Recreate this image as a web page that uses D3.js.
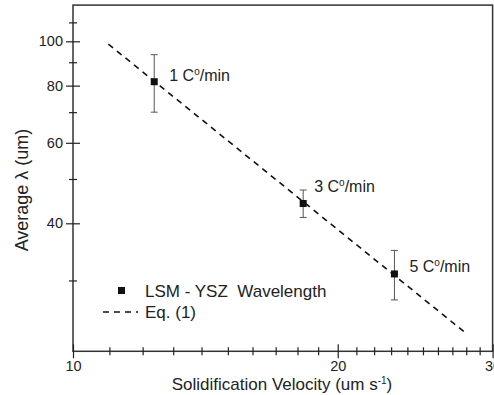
<!DOCTYPE html>
<html>
<head>
<meta charset="utf-8">
<script src="https://cdn.jsdelivr.net/npm/d3@7"></script>
<style>
  body { margin: 0; background: #fff; }
  svg { font-family: Arial, "Liberation Sans", sans-serif; }
  .axis path { display: none; }
  .axis line { stroke: #222; stroke-width: 1.2; }
</style>
</head>
<body>
<div id="chart"></div>
<script>
// ... data
const velocity = [12.37, 18.27, 23.2];
const lambda = [81.6, 44.2, 31.0];
const errLow = [70.0, 41.2, 27.2];
const errHigh = [93.5, 47.3, 34.9];
const pointLabels = ['1', '3', '5'];

// Eq. (1) line end points
const eqVelocity = [10.97, 27.9];
const eqLambda = [98.6, 23.1];

const xMajor = [10, 20, 30];
const xMinor = [11, 12, 13, 14, 15, 16, 17, 18, 19, 21, 22, 23, 24, 25, 26, 27, 28, 29];
const yMajor = [40, 60, 80, 100];
const yMinor = [30, 50, 70, 90, 110];

// label offsets from each marker (pixels)
const labelOffset = [[15, -1], [11, -11], [15, -1.5]];

const width = 494, height = 395;
const plot = {left: 73, right: 492.6, top: 5.1, bottom: 351.3};

const svg = d3.select('#chart').append('svg')
    .attr('width', width)
    .attr('height', height);

const x = d3.scaleLog().domain([10, 30]).range([plot.left, plot.right]);
const y = d3.scaleLog().domain([21, 120]).range([plot.bottom, plot.top]);

// ... frame
svg.append('rect')
    .attr('x', plot.left)
    .attr('y', y(120))
    .attr('width', plot.right - plot.left)
    .attr('height', plot.bottom - y(120))
    .attr('fill', 'none')
    .attr('stroke', '#333')
    .attr('stroke-width', 1.5);

// ... ticks crossing the axis line
function crossTicks(g, len, vertical) {
    g.selectAll('.tick line')
        .attr(vertical ? 'x1' : 'y1', -len)
        .attr(vertical ? 'x2' : 'y2', len);
    g.selectAll('.tick text').remove();
}

svg.append('g')
    .attr('class', 'axis')
    .attr('transform', 'translate(0,' + plot.bottom + ')')
    .call(d3.axisBottom(x).tickValues(xMinor).tickSize(4))
    .call(g => crossTicks(g, 4, false));

const xMaj = svg.append('g')
    .attr('class', 'axis')
    .attr('transform', 'translate(0,' + plot.bottom + ')')
    .call(d3.axisBottom(x).tickValues(xMajor).tickSize(7).tickFormat(d3.format('d')));
xMaj.selectAll('.tick line').attr('y1', -7).attr('y2', 7);
xMaj.selectAll('.tick text')
    .attr('y', 9)
    .attr('fill', '#222')
    .style('font-size', '14.5px');

svg.append('g')
    .attr('class', 'axis')
    .attr('transform', 'translate(' + plot.left + ',0)')
    .call(d3.axisLeft(y).tickValues(yMinor).tickSize(4))
    .call(g => crossTicks(g, 4, true));

const yMaj = svg.append('g')
    .attr('class', 'axis')
    .attr('transform', 'translate(' + plot.left + ',0)')
    .call(d3.axisLeft(y).tickValues(yMajor).tickSize(7).tickFormat(d3.format('d')));
yMaj.selectAll('.tick line').attr('x1', -7).attr('x2', 7);
yMaj.selectAll('.tick text')
    .attr('x', -10)
    .attr('fill', '#222')
    .style('font-size', '14.5px');

// ... Eq. (1) dashed line
const line = d3.line()
    .x(d => x(d[0]))
    .y(d => y(d[1]));

svg.append('path')
    .datum(d3.zip(eqVelocity, eqLambda))
    .attr('d', line)
    .attr('fill', 'none')
    .attr('stroke', '#111')
    .attr('stroke-width', 1.6)
    .attr('stroke-dasharray', '6,5');

// ... error bars
const pts = velocity.map((v, i) => ({
    v: v, l: lambda[i], lo: errLow[i], hi: errHigh[i], lab: pointLabels[i], off: labelOffset[i]
}));

const eb = svg.append('g').attr('stroke', '#555').attr('stroke-width', 1);
eb.selectAll('.bar').data(pts).enter().append('line')
    .attr('x1', d => x(d.v)).attr('x2', d => x(d.v))
    .attr('y1', d => y(d.lo)).attr('y2', d => y(d.hi));
eb.selectAll('.capl').data(pts).enter().append('line')
    .attr('x1', d => x(d.v) - 3.5).attr('x2', d => x(d.v) + 3.5)
    .attr('y1', d => y(d.lo)).attr('y2', d => y(d.lo));
eb.selectAll('.caph').data(pts).enter().append('line')
    .attr('x1', d => x(d.v) - 3.5).attr('x2', d => x(d.v) + 3.5)
    .attr('y1', d => y(d.hi)).attr('y2', d => y(d.hi));

// ... markers
svg.selectAll('.pt').data(pts).enter().append('rect')
    .attr('x', d => x(d.v) - 3.5)
    .attr('y', d => y(d.l) - 3.5)
    .attr('width', 7)
    .attr('height', 7)
    .attr('fill', '#111');

// ... point labels "n C°/min"
const labs = svg.selectAll('.lab').data(pts).enter().append('text')
    .attr('x', d => x(d.v) + d.off[0])
    .attr('y', d => y(d.l) + d.off[1])
    .attr('fill', '#222')
    .style('font-size', '16px');
labs.append('tspan').text(d => d.lab + ' C');
labs.append('tspan').text('o').attr('dy', -6).style('font-size', '10px');
labs.append('tspan').text('/min').attr('dy', 6);

// ... legend
svg.append('rect')
    .attr('x', 118).attr('y', 287)
    .attr('width', 7).attr('height', 7)
    .attr('fill', '#111');
svg.append('text')
    .attr('x', 145).attr('y', 296.5)
    .attr('fill', '#222')
    .style('font-size', '17px')
    .text('LSM - YSZ\u00a0 Wavelength');
svg.append('line')
    .attr('x1', 103).attr('x2', 138)
    .attr('y1', 312).attr('y2', 312)
    .attr('stroke', '#111')
    .attr('stroke-width', 1.6)
    .attr('stroke-dasharray', '6,5');
svg.append('text')
    .attr('x', 145).attr('y', 318)
    .attr('fill', '#222')
    .style('font-size', '17px')
    .text('Eq. (1)');

// ... axis titles
const xt = svg.append('text')
    .attr('x', 282)
    .attr('y', 389.5)
    .attr('text-anchor', 'middle')
    .attr('fill', '#222')
    .style('font-size', '17px');
xt.append('tspan').text('Solidification Velocity (um s');
xt.append('tspan').text('-1').attr('dy', -6).style('font-size', '10px');
xt.append('tspan').text(')').attr('dy', 6);

svg.append('text')
    .attr('transform', 'translate(28,190) rotate(-90)')
    .attr('text-anchor', 'middle')
    .attr('fill', '#222')
    .style('font-size', '18px')
    .text('Average \u03bb (um)');
</script>
</body>
</html>
